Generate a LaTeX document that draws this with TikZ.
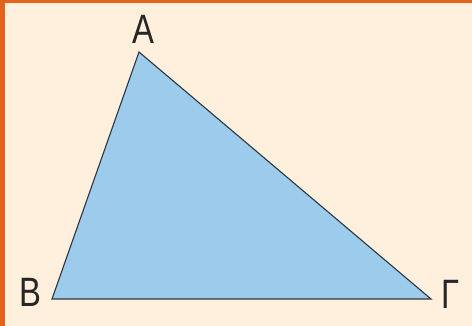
\documentclass[tikz,border=0pt]{standalone}
\usepackage{fontspec}
\setmainfont{Liberation Sans}[FakeStretch=0.8]
\definecolor{fondo}{HTML}{FEF0DC}
\definecolor{marco}{HTML}{E2631C}
\definecolor{relleno}{HTML}{9DCBEC}
\definecolor{borde}{HTML}{2B3642}
\begin{document}
\begin{tikzpicture}[
    x=1pt, y=-1pt,
    every node/.style={inner sep=0pt},
    vertice/.style={font=\fontsize{41}{41}\selectfont, text=black!85},
    lado/.style={draw=borde, line width=1.1pt, fill=relleno, line join=miter}
]
    \useasboundingbox (0,0) rectangle (472,326);
    \fill[fondo] (0,0) rectangle (472,326);
    \fill[marco] (0,0) rectangle (472,3);
    \fill[marco] (0,0) rectangle (5,326);

    % Vertices
    \coordinate (A) at (139,52);
    \coordinate (B) at (52,299);
    \coordinate (G) at (431,299);

    % Triangulo
    \path[lado] (A) -- (B) -- (G) -- cycle;

    % Etiquetas
    \node[vertice] (la) at (143,29)  {A};
    \node[vertice] (lb) at (30,292)  {B};
    \node[vertice] (lg) at (451,294) {Γ};
\end{tikzpicture}
\end{document}
